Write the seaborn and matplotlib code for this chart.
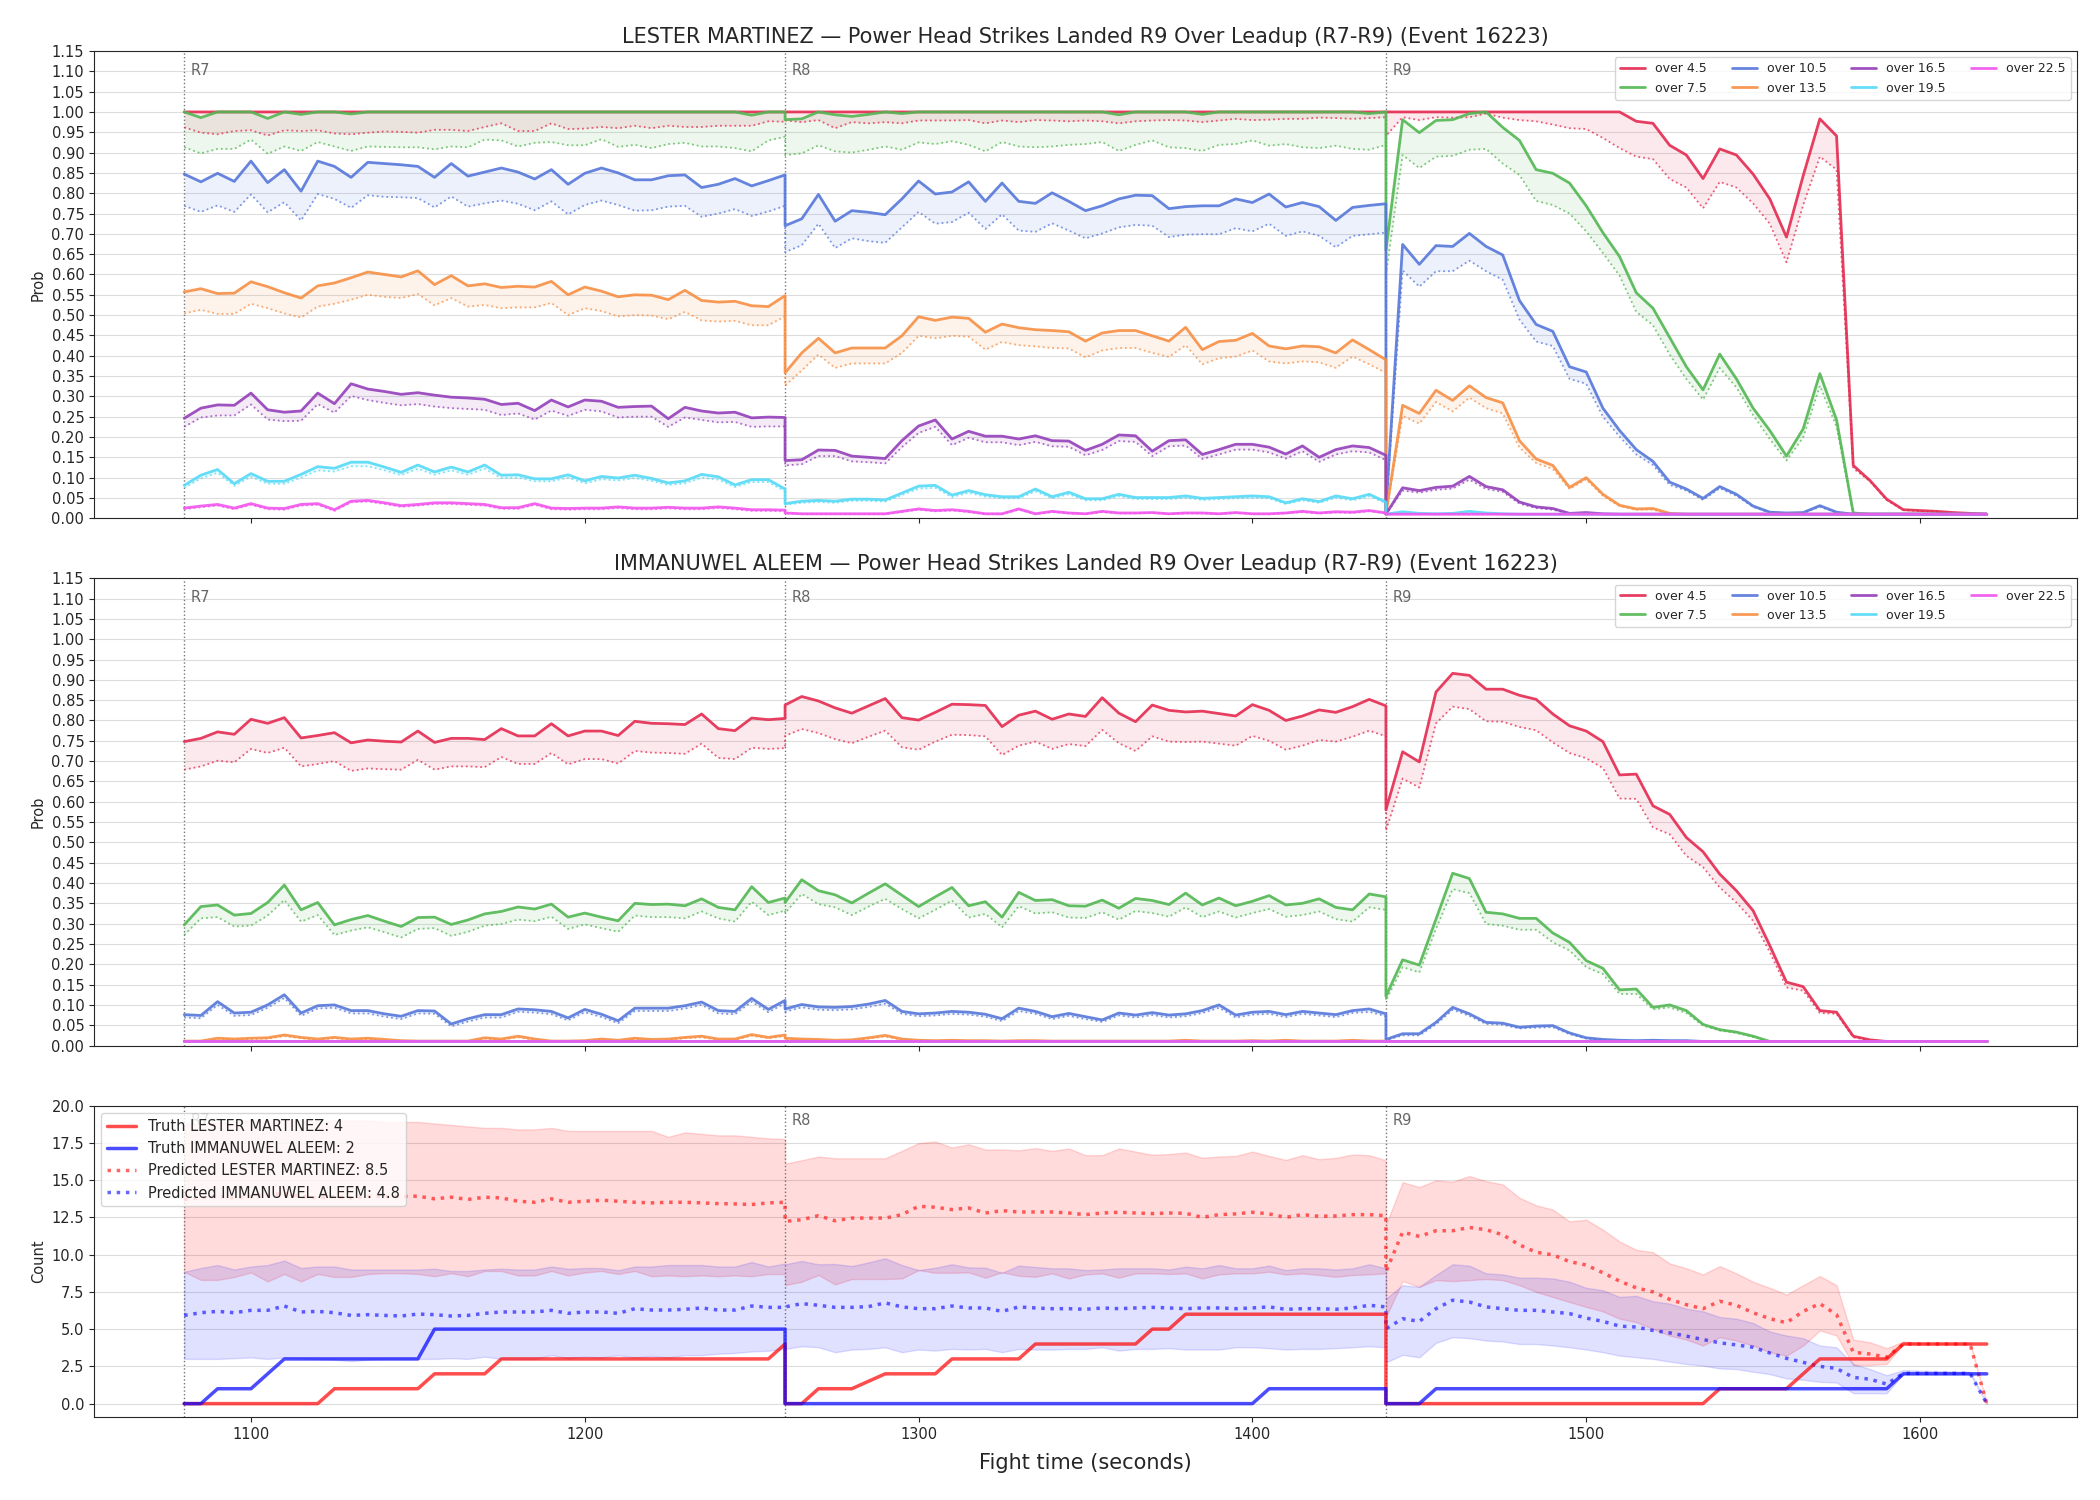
import numpy as np
import seaborn as sns
import matplotlib.pyplot as plt
import matplotlib.transforms as mtransforms
from matplotlib.lines import Line2D
from matplotlib.ticker import MultipleLocator, FormatStrFormatter

sns.set_style("ticks")
plt.rcParams['font.family'] = ['DejaVu Sans']

# rounds shown in the leadup
ROUND_STARTS = [1080, 1260, 1440]
ROUND_NAMES = ["R7", "R8", "R9"]

LINE_LABELS = ["over 4.5", "over 7.5", "over 10.5", "over 13.5", "over 16.5", "over 19.5", "over 22.5"]
LINE_COLORS = ["#e42a50", "#52b752", "#5577da", "#f78f44", "#943fba", "#55daf7", "#f254ed"]

TITLE_LM = "LESTER MARTINEZ \u2014 Power Head Strikes Landed R9 Over Leadup (R7-R9) (Event 16223)"
TITLE_IA = "IMMANUWEL ALEEM \u2014 Power Head Strikes Landed R9 Over Leadup (R7-R9) (Event 16223)"

# ---------------- LESTER MARTINEZ (probabilities, solid = hi, dotted = lo) ----------------
lm45 = [1.0] * 37 + [1.0] * 37 + [1.0] * 15 + [
    0.977, 0.972, 0.918, 0.894, 0.836, 0.909, 0.894, 0.847, 0.786, 0.692, 0.843, 0.983, 0.941,
    0.13, 0.093, 0.047, 0.021, 0.019, 0.017, 0.014, 0.012, 0.01]
lm45_lo = [
    0.962, 0.949, 0.945, 0.953, 0.955, 0.942, 0.955, 0.953, 0.955, 0.947, 0.945, 0.949, 0.952, 0.951, 0.949,
    0.956, 0.956, 0.953, 0.963, 0.972, 0.953, 0.953, 0.972, 0.958, 0.959, 0.963, 0.960, 0.966, 0.960, 0.966,
    0.963, 0.963, 0.966, 0.966, 0.966, 0.977, 0.976,
    0.979, 0.975, 0.980, 0.960, 0.975, 0.972, 0.975, 0.972, 0.979, 0.979, 0.979, 0.980, 0.972, 0.979, 0.975,
    0.980, 0.979, 0.977, 0.979, 0.977, 0.972, 0.977, 0.979, 0.980, 0.979, 0.975, 0.979, 0.983, 0.980, 0.981,
    0.983, 0.983, 0.986, 0.985, 0.983, 0.985, 0.987,
    0.941, 0.987, 0.980, 0.987, 0.986, 0.987, 0.996, 0.986, 0.980, 0.977, 0.969, 0.960, 0.958, 0.936, 0.911,
    0.890, 0.884, 0.835, 0.814, 0.763, 0.828, 0.814, 0.775, 0.725, 0.630, 0.771, 0.890, 0.858, 0.123, 0.091,
    0.045, 0.020, 0.018, 0.016, 0.013, 0.011, 0.010]

lm75 = ([1.0, 0.986, 1.0, 1.0, 1.0, 0.984, 1.0, 0.994, 1.0, 1.0, 0.995] + [1.0] * 23 + [0.992, 1.0, 1.0]
        + [0.981, 0.983, 1.0, 0.993, 0.989, 0.994, 1.0, 0.996] + [1.0] * 12 + [0.993] + [1.0] * 4
        + [0.994] + [1.0] * 9 + [0.996, 1.0]
        + [0.66, 0.981, 0.949, 0.979, 0.981, 0.996, 1.0, 0.962, 0.930, 0.858, 0.849, 0.825, 0.769, 0.703,
           0.644, 0.555, 0.517, 0.445, 0.373, 0.316, 0.404, 0.343, 0.271, 0.216, 0.153, 0.220, 0.356, 0.242,
           0.013] + [0.01] * 8)
lm75_lo = [
    0.913, 0.898, 0.909, 0.909, 0.932, 0.897, 0.915, 0.904, 0.926, 0.915, 0.904, 0.915, 0.914, 0.913, 0.913,
    0.908, 0.915, 0.913, 0.932, 0.930, 0.915, 0.924, 0.926, 0.918, 0.918, 0.933, 0.914, 0.919, 0.911, 0.921,
    0.924, 0.915, 0.915, 0.911, 0.903, 0.930, 0.939,
    0.894, 0.898, 0.918, 0.903, 0.900, 0.907, 0.915, 0.907, 0.925, 0.921, 0.928, 0.919, 0.903, 0.926, 0.915,
    0.913, 0.915, 0.919, 0.921, 0.926, 0.904, 0.919, 0.930, 0.913, 0.911, 0.904, 0.919, 0.921, 0.930, 0.917,
    0.921, 0.913, 0.911, 0.917, 0.909, 0.907, 0.919,
    0.60, 0.894, 0.862, 0.890, 0.892, 0.907, 0.909, 0.873, 0.845, 0.781, 0.771, 0.750, 0.706, 0.653, 0.597,
    0.508, 0.475, 0.403, 0.343, 0.292, 0.370, 0.322, 0.254, 0.195, 0.142, 0.199, 0.326, 0.225, 0.012] + [0.01] * 8

lm105 = [
    0.847, 0.828, 0.849, 0.829, 0.879, 0.826, 0.858, 0.805, 0.879, 0.866, 0.839, 0.876, 0.873, 0.870, 0.866,
    0.839, 0.873, 0.842, 0.852, 0.862, 0.852, 0.835, 0.858, 0.822, 0.849, 0.862, 0.850, 0.833, 0.833, 0.843,
    0.845, 0.814, 0.822, 0.836, 0.818, 0.831, 0.845,
    0.720, 0.737, 0.797, 0.731, 0.757, 0.753, 0.747, 0.786, 0.830, 0.798, 0.803, 0.828, 0.780, 0.825, 0.780,
    0.775, 0.801, 0.780, 0.757, 0.769, 0.786, 0.795, 0.794, 0.762, 0.767, 0.769, 0.769, 0.786, 0.777, 0.798,
    0.766, 0.777, 0.767, 0.733, 0.765, 0.770, 0.774,
    0.02, 0.674, 0.625, 0.671, 0.669, 0.701, 0.669, 0.648, 0.536, 0.477, 0.460, 0.373, 0.360, 0.271, 0.216,
    0.169, 0.140, 0.089, 0.072, 0.049, 0.078, 0.059, 0.030, 0.015, 0.013, 0.014, 0.031, 0.015] + [0.01] * 9
lm105_lo = [
    0.769, 0.754, 0.770, 0.754, 0.797, 0.753, 0.778, 0.733, 0.798, 0.786, 0.764, 0.795, 0.791, 0.790, 0.788,
    0.765, 0.792, 0.767, 0.775, 0.782, 0.774, 0.758, 0.780, 0.748, 0.771, 0.782, 0.771, 0.757, 0.758, 0.767,
    0.769, 0.742, 0.750, 0.761, 0.744, 0.755, 0.769,
    0.655, 0.672, 0.725, 0.665, 0.689, 0.682, 0.678, 0.716, 0.754, 0.725, 0.729, 0.752, 0.712, 0.748, 0.708,
    0.705, 0.726, 0.708, 0.689, 0.701, 0.716, 0.722, 0.720, 0.692, 0.698, 0.699, 0.699, 0.714, 0.706, 0.725,
    0.695, 0.706, 0.695, 0.667, 0.695, 0.699, 0.703,
    0.015, 0.610, 0.570, 0.608, 0.608, 0.634, 0.608, 0.587, 0.489, 0.435, 0.424, 0.343, 0.331, 0.250, 0.201,
    0.157, 0.131, 0.082, 0.068, 0.045, 0.074, 0.055, 0.028, 0.014, 0.012, 0.013, 0.028, 0.014] + [0.01] * 9

lm135 = [
    0.557, 0.565, 0.553, 0.554, 0.582, 0.570, 0.555, 0.542, 0.572, 0.579, 0.592, 0.606, 0.600, 0.594, 0.609,
    0.575, 0.597, 0.572, 0.577, 0.568, 0.571, 0.569, 0.583, 0.550, 0.569, 0.559, 0.545, 0.550, 0.549, 0.538,
    0.561, 0.536, 0.532, 0.534, 0.523, 0.521, 0.548,
    0.358, 0.407, 0.443, 0.407, 0.419, 0.419, 0.419, 0.449, 0.496, 0.487, 0.495, 0.492, 0.458, 0.478, 0.469,
    0.464, 0.462, 0.459, 0.436, 0.456, 0.462, 0.462, 0.449, 0.436, 0.470, 0.415, 0.435, 0.438, 0.455, 0.424,
    0.417, 0.424, 0.422, 0.407, 0.439, 0.415, 0.390,
    0.01, 0.278, 0.258, 0.315, 0.290, 0.326, 0.297, 0.284, 0.191, 0.146, 0.130, 0.076, 0.100, 0.059, 0.032,
    0.023, 0.024, 0.012] + [0.01] * 19
lm135_lo = [
    0.504, 0.513, 0.503, 0.503, 0.528, 0.517, 0.504, 0.494, 0.521, 0.528, 0.538, 0.550, 0.545, 0.542, 0.552,
    0.524, 0.542, 0.521, 0.525, 0.517, 0.519, 0.519, 0.530, 0.500, 0.517, 0.510, 0.497, 0.500, 0.499, 0.490,
    0.508, 0.487, 0.484, 0.486, 0.475, 0.475, 0.497,
    0.326, 0.364, 0.403, 0.370, 0.381, 0.381, 0.381, 0.407, 0.449, 0.443, 0.449, 0.447, 0.415, 0.434, 0.426,
    0.423, 0.419, 0.418, 0.396, 0.413, 0.419, 0.419, 0.407, 0.397, 0.426, 0.379, 0.394, 0.398, 0.413, 0.386,
    0.381, 0.386, 0.384, 0.370, 0.398, 0.379, 0.358,
    0.01, 0.252, 0.233, 0.286, 0.263, 0.297, 0.271, 0.258, 0.174, 0.136, 0.121, 0.072, 0.096, 0.055, 0.030,
    0.021, 0.021, 0.011] + [0.01] * 19

lm165 = [
    0.246, 0.271, 0.279, 0.278, 0.308, 0.267, 0.261, 0.264, 0.308, 0.282, 0.331, 0.318, 0.312, 0.305, 0.309,
    0.303, 0.298, 0.296, 0.293, 0.280, 0.283, 0.265, 0.291, 0.274, 0.291, 0.288, 0.273, 0.275, 0.276, 0.245,
    0.273, 0.264, 0.259, 0.261, 0.247, 0.249, 0.248,
    0.142, 0.144, 0.168, 0.167, 0.153, 0.150, 0.147, 0.191, 0.227, 0.242, 0.195, 0.214, 0.202, 0.202, 0.195,
    0.203, 0.191, 0.190, 0.167, 0.182, 0.205, 0.203, 0.165, 0.191, 0.193, 0.157, 0.169, 0.182, 0.182, 0.175,
    0.158, 0.178, 0.150, 0.169, 0.178, 0.174, 0.155,
    0.01, 0.075, 0.068, 0.076, 0.079, 0.103, 0.078, 0.070, 0.040, 0.028, 0.024, 0.012, 0.014, 0.011] + [0.01] * 23
lm165_lo = [
    0.225, 0.248, 0.253, 0.253, 0.280, 0.243, 0.239, 0.240, 0.281, 0.260, 0.301, 0.291, 0.284, 0.278, 0.281,
    0.275, 0.271, 0.269, 0.267, 0.254, 0.258, 0.243, 0.265, 0.252, 0.267, 0.263, 0.248, 0.250, 0.250, 0.225,
    0.248, 0.242, 0.236, 0.237, 0.225, 0.226, 0.226,
    0.130, 0.133, 0.153, 0.153, 0.140, 0.138, 0.135, 0.175, 0.210, 0.225, 0.180, 0.198, 0.187, 0.187, 0.180,
    0.188, 0.177, 0.176, 0.155, 0.168, 0.190, 0.188, 0.153, 0.177, 0.179, 0.146, 0.157, 0.169, 0.169, 0.162,
    0.147, 0.165, 0.139, 0.157, 0.165, 0.162, 0.143,
    0.01, 0.068, 0.063, 0.070, 0.073, 0.095, 0.072, 0.065, 0.036, 0.025, 0.021, 0.011, 0.012, 0.010] + [0.01] * 23

lm195 = [
    0.081, 0.106, 0.120, 0.085, 0.110, 0.091, 0.091, 0.108, 0.127, 0.123, 0.138, 0.138, 0.126, 0.113, 0.131,
    0.114, 0.126, 0.114, 0.131, 0.106, 0.107, 0.097, 0.097, 0.107, 0.092, 0.103, 0.099, 0.106, 0.098, 0.087,
    0.092, 0.108, 0.102, 0.082, 0.095, 0.095, 0.072,
    0.036, 0.042, 0.044, 0.042, 0.047, 0.047, 0.045, 0.062, 0.079, 0.081, 0.057, 0.068, 0.058, 0.053, 0.053,
    0.072, 0.053, 0.064, 0.048, 0.048, 0.059, 0.051, 0.051, 0.051, 0.055, 0.049, 0.051, 0.053, 0.055, 0.053,
    0.038, 0.048, 0.041, 0.055, 0.048, 0.059, 0.040,
    0.01, 0.016, 0.012, 0.011, 0.012, 0.017, 0.013, 0.011] + [0.01] * 29
lm195_lo = [
    0.075, 0.098, 0.112, 0.080, 0.102, 0.085, 0.085, 0.100, 0.118, 0.115, 0.128, 0.128, 0.118, 0.106, 0.122,
    0.107, 0.118, 0.107, 0.122, 0.099, 0.100, 0.091, 0.091, 0.100, 0.086, 0.096, 0.093, 0.099, 0.092, 0.082,
    0.086, 0.100, 0.095, 0.077, 0.089, 0.089, 0.066,
    0.033, 0.038, 0.040, 0.038, 0.043, 0.043, 0.041, 0.057, 0.073, 0.075, 0.052, 0.063, 0.053, 0.049, 0.049,
    0.066, 0.049, 0.059, 0.044, 0.044, 0.054, 0.047, 0.047, 0.047, 0.050, 0.045, 0.047, 0.049, 0.050, 0.049,
    0.035, 0.044, 0.038, 0.050, 0.044, 0.054, 0.037,
    0.01, 0.014, 0.011, 0.010, 0.011, 0.015, 0.012, 0.010] + [0.01] * 29

lm225 = [
    0.025, 0.030, 0.034, 0.025, 0.036, 0.025, 0.024, 0.034, 0.036, 0.021, 0.042, 0.044, 0.038, 0.031, 0.034,
    0.038, 0.038, 0.036, 0.034, 0.026, 0.026, 0.036, 0.025, 0.024, 0.025, 0.025, 0.028, 0.025, 0.025, 0.027,
    0.025, 0.025, 0.028, 0.025, 0.021, 0.021, 0.020,
    0.013, 0.011, 0.011, 0.011, 0.011, 0.011, 0.011, 0.017, 0.023, 0.019, 0.021, 0.017, 0.011, 0.011, 0.023,
    0.011, 0.017, 0.013, 0.011, 0.017, 0.013, 0.013, 0.014, 0.011, 0.013, 0.013, 0.011, 0.014, 0.011, 0.011,
    0.013, 0.017, 0.013, 0.016, 0.015, 0.019, 0.013] + [0.01] * 37
lm225_lo = [
    0.022, 0.027, 0.031, 0.022, 0.033, 0.022, 0.021, 0.031, 0.033, 0.018, 0.039, 0.041, 0.035, 0.028, 0.031,
    0.035, 0.035, 0.033, 0.031, 0.023, 0.023, 0.033, 0.022, 0.021, 0.022, 0.022, 0.025, 0.022, 0.022, 0.024,
    0.022, 0.022, 0.025, 0.022, 0.018, 0.018, 0.017,
    0.012, 0.010, 0.010, 0.010, 0.010, 0.010, 0.010, 0.015, 0.021, 0.017, 0.019, 0.015, 0.010, 0.010, 0.021,
    0.010, 0.015, 0.012, 0.010, 0.015, 0.012, 0.012, 0.013, 0.010, 0.012, 0.012, 0.010, 0.013, 0.010, 0.010,
    0.012, 0.015, 0.012, 0.014, 0.013, 0.017, 0.012] + [0.01] * 37

# ---------------- IMMANUWEL ALEEM ----------------
ia45 = [
    0.748, 0.756, 0.772, 0.766, 0.803, 0.793, 0.807, 0.757, 0.763, 0.770, 0.745, 0.752, 0.749, 0.747, 0.774,
    0.746, 0.756, 0.756, 0.753, 0.780, 0.762, 0.762, 0.792, 0.762, 0.774, 0.774, 0.763, 0.798, 0.793, 0.792,
    0.790, 0.816, 0.780, 0.775, 0.806, 0.802, 0.805,
    0.838, 0.859, 0.848, 0.831, 0.818, 0.836, 0.854, 0.807, 0.801, 0.820, 0.840, 0.839, 0.837, 0.785, 0.813,
    0.823, 0.803, 0.816, 0.810, 0.856, 0.818, 0.797, 0.838, 0.825, 0.821, 0.823, 0.817, 0.811, 0.839, 0.825,
    0.800, 0.811, 0.826, 0.820, 0.834, 0.852, 0.836,
    0.580, 0.723, 0.698, 0.870, 0.916, 0.911, 0.877, 0.877, 0.862, 0.852, 0.816, 0.787, 0.774, 0.748, 0.666,
    0.668, 0.590, 0.569, 0.512, 0.477, 0.422, 0.381, 0.332, 0.246, 0.156, 0.145, 0.086, 0.082, 0.023,
    0.014] + [0.01] * 7
ia45_lo = [
    0.679, 0.687, 0.701, 0.697, 0.730, 0.720, 0.733, 0.687, 0.693, 0.700, 0.676, 0.682, 0.680, 0.679, 0.703,
    0.679, 0.687, 0.687, 0.685, 0.710, 0.693, 0.693, 0.720, 0.692, 0.705, 0.705, 0.694, 0.725, 0.721, 0.720,
    0.718, 0.743, 0.708, 0.705, 0.733, 0.730, 0.732,
    0.762, 0.779, 0.769, 0.754, 0.744, 0.760, 0.775, 0.734, 0.728, 0.748, 0.765, 0.764, 0.761, 0.715, 0.738,
    0.748, 0.730, 0.742, 0.737, 0.777, 0.744, 0.725, 0.761, 0.748, 0.747, 0.748, 0.743, 0.738, 0.762, 0.750,
    0.728, 0.738, 0.752, 0.748, 0.760, 0.775, 0.761,
    0.529, 0.657, 0.635, 0.793, 0.834, 0.828, 0.798, 0.797, 0.784, 0.776, 0.746, 0.720, 0.707, 0.683, 0.608,
    0.607, 0.537, 0.520, 0.467, 0.439, 0.389, 0.352, 0.307, 0.230, 0.143, 0.135, 0.080, 0.078, 0.020,
    0.013] + [0.01] * 7

ia75 = [
    0.297, 0.342, 0.346, 0.321, 0.325, 0.352, 0.395, 0.334, 0.352, 0.297, 0.310, 0.320, 0.306, 0.293, 0.315,
    0.316, 0.298, 0.309, 0.324, 0.330, 0.341, 0.336, 0.348, 0.316, 0.326, 0.316, 0.307, 0.350, 0.347, 0.348,
    0.344, 0.361, 0.340, 0.334, 0.391, 0.352, 0.363,
    0.352, 0.408, 0.381, 0.371, 0.351, 0.375, 0.398, 0.370, 0.342, 0.366, 0.389, 0.344, 0.354, 0.316, 0.377,
    0.357, 0.359, 0.344, 0.343, 0.358, 0.338, 0.362, 0.357, 0.347, 0.375, 0.346, 0.363, 0.344, 0.355, 0.369,
    0.346, 0.350, 0.361, 0.340, 0.334, 0.373, 0.366,
    0.121, 0.211, 0.198, 0.311, 0.424, 0.411, 0.328, 0.324, 0.313, 0.313, 0.277, 0.254, 0.209, 0.190, 0.137,
    0.139, 0.094, 0.100, 0.086, 0.052, 0.039, 0.033, 0.023] + [0.01] * 14
ia75_lo = [
    0.272, 0.313, 0.316, 0.293, 0.295, 0.320, 0.358, 0.305, 0.321, 0.272, 0.283, 0.291, 0.279, 0.266, 0.287,
    0.289, 0.270, 0.280, 0.295, 0.299, 0.310, 0.306, 0.317, 0.287, 0.298, 0.289, 0.280, 0.320, 0.316, 0.316,
    0.313, 0.330, 0.313, 0.305, 0.354, 0.321, 0.332,
    0.326, 0.373, 0.348, 0.340, 0.321, 0.342, 0.361, 0.336, 0.313, 0.334, 0.357, 0.315, 0.324, 0.291, 0.343,
    0.325, 0.328, 0.315, 0.314, 0.328, 0.310, 0.331, 0.326, 0.317, 0.340, 0.316, 0.330, 0.315, 0.326, 0.336,
    0.317, 0.321, 0.330, 0.311, 0.305, 0.340, 0.334,
    0.111, 0.193, 0.180, 0.287, 0.385, 0.375, 0.299, 0.295, 0.285, 0.285, 0.254, 0.234, 0.193, 0.176, 0.127,
    0.127, 0.089, 0.094, 0.080, 0.049, 0.037, 0.031, 0.021] + [0.01] * 14

ia105 = [
    0.076, 0.074, 0.108, 0.080, 0.082, 0.100, 0.125, 0.080, 0.098, 0.100, 0.086, 0.086, 0.078, 0.072, 0.086,
    0.085, 0.053, 0.066, 0.076, 0.076, 0.090, 0.088, 0.084, 0.068, 0.089, 0.077, 0.061, 0.092, 0.092, 0.092,
    0.098, 0.107, 0.086, 0.084, 0.116, 0.089, 0.111,
    0.090, 0.101, 0.095, 0.094, 0.096, 0.102, 0.111, 0.084, 0.078, 0.080, 0.084, 0.082, 0.077, 0.066, 0.092,
    0.084, 0.071, 0.079, 0.071, 0.063, 0.080, 0.075, 0.081, 0.075, 0.078, 0.086, 0.100, 0.075, 0.082, 0.084,
    0.076, 0.084, 0.080, 0.076, 0.086, 0.090, 0.078,
    0.015, 0.029, 0.029, 0.057, 0.094, 0.078, 0.057, 0.055, 0.045, 0.048, 0.049, 0.031, 0.019, 0.015, 0.013,
    0.012, 0.013, 0.012, 0.012] + [0.01] * 18
ia105_lo = [
    0.069, 0.067, 0.100, 0.073, 0.075, 0.093, 0.117, 0.073, 0.091, 0.093, 0.079, 0.079, 0.071, 0.065, 0.079,
    0.078, 0.047, 0.059, 0.069, 0.069, 0.083, 0.081, 0.077, 0.062, 0.082, 0.070, 0.055, 0.085, 0.085, 0.085,
    0.091, 0.100, 0.079, 0.077, 0.108, 0.082, 0.104,
    0.083, 0.094, 0.088, 0.087, 0.089, 0.095, 0.103, 0.078, 0.072, 0.074, 0.078, 0.076, 0.071, 0.060, 0.085,
    0.078, 0.065, 0.073, 0.065, 0.058, 0.074, 0.069, 0.075, 0.069, 0.072, 0.080, 0.093, 0.069, 0.076, 0.078,
    0.070, 0.078, 0.074, 0.070, 0.080, 0.083, 0.072,
    0.013, 0.025, 0.025, 0.052, 0.088, 0.073, 0.053, 0.051, 0.042, 0.044, 0.045, 0.028, 0.017, 0.013, 0.012,
    0.011, 0.012, 0.011, 0.011] + [0.01] * 18

ia135 = [
    0.011, 0.011, 0.018, 0.016, 0.018, 0.019, 0.026, 0.020, 0.016, 0.020, 0.016, 0.018, 0.015, 0.012, 0.011,
    0.011, 0.011, 0.011, 0.019, 0.016, 0.023, 0.016, 0.011, 0.011, 0.012, 0.016, 0.013, 0.018, 0.015, 0.016,
    0.020, 0.023, 0.016, 0.016, 0.027, 0.020, 0.026,
    0.018, 0.016, 0.015, 0.013, 0.014, 0.019, 0.025, 0.016, 0.013, 0.012, 0.013, 0.012, 0.012, 0.011, 0.012,
    0.012, 0.011, 0.011, 0.011, 0.011, 0.011, 0.011, 0.011, 0.011, 0.013, 0.011, 0.011, 0.011, 0.012, 0.011,
    0.013, 0.011, 0.011, 0.011, 0.013, 0.011, 0.011] + [0.01] * 37
ia135_lo = [
    0.010, 0.010, 0.016, 0.014, 0.016, 0.017, 0.023, 0.018, 0.014, 0.018, 0.014, 0.016, 0.013, 0.011, 0.010,
    0.010, 0.010, 0.010, 0.017, 0.014, 0.020, 0.014, 0.010, 0.010, 0.011, 0.014, 0.012, 0.016, 0.013, 0.014,
    0.018, 0.020, 0.014, 0.014, 0.024, 0.018, 0.023,
    0.016, 0.014, 0.013, 0.012, 0.013, 0.017, 0.022, 0.014, 0.012, 0.011, 0.012, 0.011] + [0.01] * 25 + [0.01] * 37

ia165 = [0.01] * 111
ia195 = [0.01] * 111
ia225 = [0.01] * 111

# ---------------- counts panel ----------------
truth_lm = ([0] * 9 + [1] * 6 + [2] * 4 + [3] * 17 + [4]
            + [0, 0, 1, 1, 1, 1.5, 2, 2, 2, 2, 3, 3, 3, 3, 3, 4, 4, 4, 4, 4, 4, 4, 5, 5] + [6] * 13
            + [0] * 20 + [1] * 5 + [2] + [3] * 5 + [4] * 6)
truth_ia = ([0, 0, 1, 1, 1, 2] + [3] * 9 + [5] * 22
            + [0] * 29 + [1] * 8
            + [0] * 3 + [1] * 28 + [2] * 6)

pred_lm = [
    13.7, 13.8, 13.9, 13.8, 13.9, 14.0, 14.1, 13.9, 13.8, 13.9, 13.8, 13.9, 13.9, 13.9, 13.92, 13.74, 13.85,
    13.7, 13.85, 13.8, 13.58, 13.51, 13.74, 13.51, 13.58, 13.65, 13.58, 13.51, 13.47, 13.51, 13.51, 13.47,
    13.42, 13.4, 13.36, 13.47, 13.51,
    12.23, 12.34, 12.61, 12.27, 12.45, 12.45, 12.45, 12.68, 13.24, 13.18, 13.02, 13.13, 12.79, 12.95, 12.86,
    12.86, 12.86, 12.79, 12.68, 12.79, 12.84, 12.79, 12.75, 12.79, 12.77, 12.5, 12.68, 12.73, 12.84, 12.73,
    12.5, 12.68, 12.57, 12.59, 12.68, 12.68, 12.61,
    8.85, 11.51, 11.22, 11.6, 11.6, 11.82, 11.67, 11.33, 10.65, 10.16, 9.98, 9.53, 9.3, 8.78, 8.22, 7.77, 7.5,
    7.0, 6.64, 6.37, 6.87, 6.6, 6.1, 5.7, 5.43, 6.19, 6.71, 5.97, 3.45, 3.33, 3.11, 4.0, 4.0, 4.0, 4.0, 4.0, 0.0]
pred_ia = [
    5.92, 6.10, 6.19, 6.10, 6.26, 6.26, 6.55, 6.15, 6.19, 6.10, 5.92, 5.97, 5.92, 5.88, 6.01, 5.97, 5.88,
    5.92, 6.06, 6.15, 6.15, 6.15, 6.26, 6.06, 6.15, 6.15, 6.06, 6.37, 6.28, 6.28, 6.33, 6.42, 6.28, 6.28,
    6.55, 6.46, 6.46,
    6.49, 6.71, 6.6, 6.46, 6.46, 6.51, 6.76, 6.49, 6.37, 6.37, 6.55, 6.42, 6.42, 6.19, 6.49, 6.42, 6.37, 6.37,
    6.33, 6.42, 6.37, 6.42, 6.46, 6.42, 6.37, 6.42, 6.42, 6.37, 6.42, 6.49, 6.33, 6.37, 6.37, 6.33, 6.42, 6.6,
    6.49,
    5.02, 5.7, 5.52, 6.37, 6.94, 6.82, 6.49, 6.37, 6.26, 6.26, 6.15, 6.04, 5.74, 5.52, 5.2, 5.14, 4.91, 4.75,
    4.53, 4.3, 4.08, 3.94, 3.78, 3.4, 3.04, 2.77, 2.5, 2.36, 1.76, 1.64, 1.31, 2.03, 2.03, 2.03, 2.03, 2.03, 0.0]

band_lm_hi = [
    18.8, 18.8, 18.9, 18.9, 19.0, 19.0, 19.0, 19.0, 18.9, 19.0, 19.0, 19.0, 18.9, 18.9, 18.9, 18.8, 18.7, 18.6,
    18.5, 18.5, 18.4, 18.4, 18.5, 18.3, 18.3, 18.3, 18.3, 18.3, 18.3, 17.9, 18.2, 18.1, 18.0, 18.0, 17.9,
    17.8, 17.75,
    16.1, 16.33, 16.58, 16.46, 16.46, 16.46, 16.46, 16.96, 17.48, 17.59, 17.18, 17.4, 17.05, 17.05, 17.0,
    17.14, 16.96, 17.12, 16.67, 16.67, 17.12, 16.91, 16.7, 16.74, 16.85, 16.49, 16.58, 16.62, 16.91, 16.62,
    16.35, 16.67, 16.4, 16.49, 16.71, 16.67, 16.33,
    12.0, 14.86, 14.53, 14.98, 14.89, 15.27, 14.93, 14.71, 13.81, 13.31, 13.02, 12.23, 12.34, 11.67, 10.88,
    10.32, 10.16, 9.41, 9.08, 8.67, 9.23, 8.74, 8.18, 7.77, 7.32, 7.95, 8.56, 7.95, 4.3, 4.12, 3.72, 4.17,
    4.08, 4.08, 4.08, 4.08, 0.0]
band_lm_lo = [
    8.85, 8.3, 8.3, 8.5, 8.8, 8.2, 8.7, 8.2, 8.7, 8.5, 8.5, 8.7, 8.75, 8.75, 8.7, 8.55, 8.75, 8.55, 8.9, 8.9,
    8.6, 8.6, 8.9, 8.6, 8.8, 8.9, 8.7, 8.9, 8.55, 8.6, 8.55, 8.6, 8.55, 8.6, 8.55, 8.7, 8.7,
    7.95, 8.18, 8.63, 8.0, 8.36, 8.36, 8.36, 8.4, 8.96, 8.78, 8.78, 8.81, 8.45, 8.81, 8.58, 8.51, 8.74, 8.4,
    8.67, 8.74, 8.45, 8.74, 8.74, 8.7, 8.74, 8.4, 8.67, 8.74, 8.74, 8.85, 8.67, 8.74, 8.63, 8.51, 8.63, 8.67,
    8.74,
    5.8, 8.22, 7.84, 8.29, 8.22, 8.29, 8.36, 8.29, 7.95, 7.5, 7.16, 6.82, 6.49, 6.19, 5.7, 5.47, 5.02, 4.57,
    4.3, 3.9, 4.46, 4.23, 3.9, 3.45, 3.22, 3.9, 4.91, 4.57, 2.59, 2.59, 2.66, 4.0, 4.0, 4.0, 4.0, 4.0, 0.0]
band_ia_hi = [
    8.85, 9.1, 9.3, 9.0, 9.2, 9.3, 9.6, 9.1, 9.2, 9.2, 9.0, 9.0, 9.0, 9.0, 9.0, 9.05, 8.9, 8.9, 9.0, 9.05,
    9.0, 9.0, 9.2, 9.05, 9.1, 9.1, 8.95, 9.2, 9.2, 9.3, 9.3, 9.3, 9.2, 9.2, 9.5, 9.2, 9.4,
    9.35, 9.57, 9.35, 9.37, 9.23, 9.48, 9.75, 9.3, 8.96, 9.12, 9.35, 9.14, 9.12, 8.78, 9.26, 9.17, 9.08,
    9.08, 8.96, 9.0, 9.08, 9.08, 9.08, 9.0, 9.19, 9.08, 9.3, 9.08, 9.08, 9.26, 8.96, 9.08, 9.08, 9.0, 9.08,
    9.35, 9.08,
    7.05, 7.95, 7.84, 8.63, 9.35, 9.26, 8.74, 8.67, 8.45, 8.45, 8.4, 8.18, 7.77, 7.61, 7.16, 7.23, 6.87, 6.71,
    6.37, 6.19, 5.81, 5.7, 5.41, 4.84, 4.57, 4.39, 3.9, 3.78, 2.66, 2.32, 1.91, 2.25, 2.21, 2.18, 2.16, 2.14,
    0.0]
band_ia_lo = [
    3.0, 3.0, 3.0, 3.05, 3.1, 3.0, 3.1, 3.05, 3.0, 2.95, 2.85, 2.95, 3.0, 3.0, 3.0, 3.0, 3.05, 3.0, 3.15, 3.0,
    3.0, 3.0, 3.25, 3.05, 3.15, 3.1, 3.25, 3.1, 3.2, 3.1, 3.25, 3.25, 3.35, 3.4, 3.5, 3.55, 3.7,
    3.67, 3.85, 3.78, 3.45, 3.63, 3.67, 3.78, 3.45, 3.63, 3.56, 3.67, 3.63, 3.67, 3.45, 3.67, 3.63, 3.63,
    3.67, 3.67, 3.78, 3.56, 3.67, 3.67, 3.72, 3.63, 3.63, 3.63, 3.78, 3.78, 3.72, 3.63, 3.67, 3.67, 3.72,
    3.78, 3.85, 3.78,
    2.77, 3.27, 3.11, 4.08, 4.46, 4.39, 4.23, 4.17, 4.0, 4.0, 3.9, 3.78, 3.63, 3.45, 3.22, 3.11, 3.0, 2.82,
    2.66, 2.55, 2.36, 2.32, 2.14, 1.98, 1.69, 1.6, 1.46, 1.42, 0.7, 0.7, 0.7, 1.98, 1.98, 1.98, 1.98, 1.98, 0.0]

# fight time: each round sampled every 5 s, round end and next round start share a timestamp
t = np.concatenate([np.arange(s, s + 181, 5) for s in ROUND_STARTS])


def mark_rounds(ax):
    trans = mtransforms.blended_transform_factory(ax.transData, ax.transAxes)
    for s, name in zip(ROUND_STARTS, ROUND_NAMES):
        ax.axvline(s, color='#555555', ls=':', lw=1, alpha=0.8, zorder=1)
        ax.text(s + 2, 0.975, name, transform=trans, va='top', ha='left', color='#666666', fontsize=10.5)


def prob_panel(ax, his, los, title):
    for lab, col, hi, lo in zip(LINE_LABELS, LINE_COLORS, his, los):
        ax.fill_between(t, lo, hi, color=col, alpha=0.1, lw=0)
        sns.lineplot(x=t, y=lo, ax=ax, color=col, lw=1.3, linestyle=':', alpha=0.75,
                     estimator=None, sort=False)
        sns.lineplot(x=t, y=hi, ax=ax, color=col, lw=2, alpha=0.9,
                     estimator=None, sort=False, label=lab)
    mark_rounds(ax)
    ax.set_ylim(0, 1.15)
    ax.yaxis.set_major_locator(MultipleLocator(0.05))
    ax.yaxis.set_major_formatter(FormatStrFormatter('%.2f'))
    ax.grid(axis='y', color='#dddddd', lw=0.8)
    ax.set_axisbelow(True)
    ax.set_ylabel('Prob', fontsize=10.5)
    ax.set_title(title, fontsize=15)
    ax.tick_params(labelbottom=False, labelsize=10.5)
    ax.legend(loc='upper right', ncol=4, fontsize=9)


fig = plt.figure(figsize=(21, 15), dpi=100)
gs = fig.add_gridspec(3, 1, height_ratios=[3, 3, 2], left=0.0448, right=0.989,
                      top=0.966, bottom=0.0553, hspace=0.1445)
ax1 = fig.add_subplot(gs[0])
ax2 = fig.add_subplot(gs[1], sharex=ax1)
ax3 = fig.add_subplot(gs[2], sharex=ax1)

prob_panel(ax1, [lm45, lm75, lm105, lm135, lm165, lm195, lm225],
           [lm45_lo, lm75_lo, lm105_lo, lm135_lo, lm165_lo, lm195_lo, lm225_lo], TITLE_LM)
prob_panel(ax2, [ia45, ia75, ia105, ia135, ia165, ia195, ia225],
           [ia45_lo, ia75_lo, ia105_lo, ia135_lo, ia165, ia195, ia225], TITLE_IA)

# counts
ax3.fill_between(t, band_lm_lo, band_lm_hi, color='red', alpha=0.14)
ax3.fill_between(t, band_ia_lo, band_ia_hi, color='blue', alpha=0.12)
sns.lineplot(x=t, y=pred_lm, ax=ax3, color='red', lw=2.5, linestyle=':', alpha=0.6,
             estimator=None, sort=False)
sns.lineplot(x=t, y=pred_ia, ax=ax3, color='blue', lw=2.5, linestyle=':', alpha=0.6,
             estimator=None, sort=False)
sns.lineplot(x=t, y=truth_lm, ax=ax3, color='red', lw=2.5, alpha=0.7, estimator=None, sort=False)
sns.lineplot(x=t, y=truth_ia, ax=ax3, color='blue', lw=2.5, alpha=0.7, estimator=None, sort=False)
mark_rounds(ax3)
handles = [
    Line2D([], [], color='red', lw=2.5, alpha=0.7),
    Line2D([], [], color='blue', lw=2.5, alpha=0.7),
    Line2D([], [], color='red', lw=2.5, ls=':', alpha=0.6),
    Line2D([], [], color='blue', lw=2.5, ls=':', alpha=0.6),
]
labels = ["Truth LESTER MARTINEZ: 4", "Truth IMMANUWEL ALEEM: 2",
          "Predicted LESTER MARTINEZ: 8.5", "Predicted IMMANUWEL ALEEM: 4.8"]
ax3.legend(handles, labels, loc='upper left', fontsize=10.5)
ax3.set_ylim(-0.9, 20)
ax3.yaxis.set_major_locator(MultipleLocator(2.5))
ax3.yaxis.set_major_formatter(FormatStrFormatter('%.1f'))
ax3.grid(axis='y', color='#dddddd', lw=0.8)
ax3.set_axisbelow(True)
ax3.set_ylabel('Count', fontsize=10.5)
ax3.set_xlabel('Fight time (seconds)', fontsize=15, labelpad=8)
ax3.tick_params(labelsize=10.5)
ax3.set_xlim(1053, 1647)

fig.savefig('out.png', dpi=100)
